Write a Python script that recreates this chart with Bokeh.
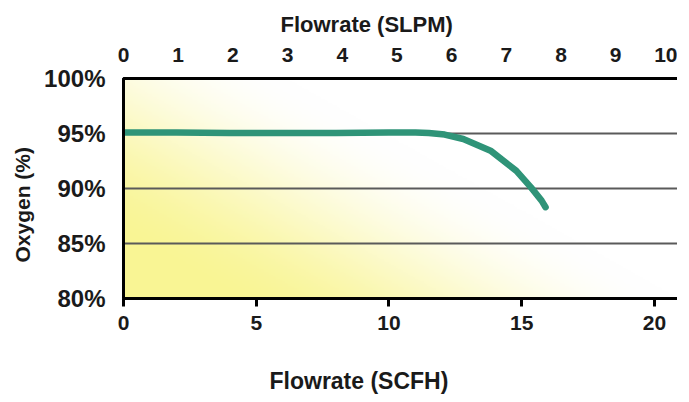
import numpy as np
from bokeh.plotting import figure
from bokeh.models import Range1d, LinearAxis, FixedTicker, PrintfTickFormatter, Title
from bokeh.embed import file_html
from bokeh.resources import INLINE

# ---- data ----
scfh = [0, 2, 4, 6, 8, 10, 11, 11.5, 12.1, 12.8, 13.85, 14.8, 15.35, 15.75, 15.9]
oxygen = [95.1, 95.1, 95.05, 95.05, 95.05, 95.1, 95.1, 95.05, 94.9, 94.5, 93.4, 91.6, 90.1, 88.9, 88.3]
scfh_ticks = [0, 5, 10, 15, 20]
slpm_ticks = [0, 1, 2, 3, 4, 5, 6, 7, 8, 9, 10]
oxygen_ticks = [80, 85, 90, 95, 100]
grid_ticks = [85, 90, 95]

X_MAX = 20.87
SLPM_MAX = 10.13
Y_MIN, Y_MAX = 80, 100

FONT = "Liberation Sans"
TXT = "#1a1a1a"

p = figure(frame_width=554, frame_height=220,
           min_border_left=123, min_border_right=0, min_border_top=78, min_border_bottom=96,
           output_backend="svg", toolbar_location=None,
           x_range=Range1d(0, X_MAX), y_range=Range1d(Y_MIN, Y_MAX),
           background_fill_color="white", border_fill_color="white")

# background gradient (yellow bottom-left -> white top-right)
ny, nx = 160, 320
u = np.linspace(0, 1, nx)[None, :]
v = np.linspace(0, 1, ny)[:, None]
d = 0.85 * u + 0.6 * v
s = np.clip((d - 0.15) / 0.7, 0, 1)
t = 1 - (3 * s ** 2 - 2 * s ** 3)
yellow = (249, 245, 148)
img = np.empty((ny, nx), dtype=np.uint32)
view = img.view(dtype=np.uint8).reshape((ny, nx, 4))
for k in range(3):
    view[..., k] = (255 - (255 - yellow[k]) * t).astype(np.uint8)
view[..., 3] = 255
bg = p.image_rgba(image=[img], x=0, y=Y_MIN, dw=X_MAX, dh=Y_MAX - Y_MIN)
bg.level = "image"

# grid
p.xgrid.visible = False
p.ygrid.ticker = FixedTicker(ticks=grid_ticks)
p.ygrid.grid_line_color = "#5a5a5a"
p.ygrid.grid_line_width = 2

p.outline_line_color = "black"
p.outline_line_width = 3
p.outline_line_alpha = 1

# curve
p.line(scfh, oxygen, line_color="#2f9478", line_width=6.5, line_cap="round", line_join="round")

# bottom axis
xa = p.xaxis[0]
xa.ticker = FixedTicker(ticks=scfh_ticks)
xa.major_tick_out = 8
xa.major_tick_in = 0
xa.major_tick_line_width = 3
xa.major_tick_line_color = "black"
xa.minor_tick_line_color = None
xa.axis_line_color = "black"
xa.axis_line_width = 3
xa.major_label_standoff = 9
xa.major_label_text_font = FONT
xa.major_label_text_font_style = "bold"
xa.major_label_text_font_size = "21px"
xa.major_label_text_color = TXT
# blank spacer label pushes the SCFH title further down
xa.axis_label = " "
xa.axis_label_text_font_size = "12px"
xa.axis_label_standoff = 15

# left axis
ya = p.yaxis[0]
ya.ticker = FixedTicker(ticks=oxygen_ticks)
ya.formatter = PrintfTickFormatter(format="%d%%")
ya.major_tick_out = 0
ya.major_tick_in = 0
ya.minor_tick_line_color = None
ya.axis_line_color = "black"
ya.axis_line_width = 3
ya.major_label_standoff = 18
ya.major_label_text_font = FONT
ya.major_label_text_font_style = "bold"
ya.major_label_text_font_size = "24px"
ya.major_label_text_color = TXT

# top axis (SLPM)
p.extra_x_ranges = {"slpm": Range1d(0, SLPM_MAX)}
top = LinearAxis(x_range_name="slpm", ticker=FixedTicker(ticks=slpm_ticks))
top.major_tick_out = 0
top.major_tick_in = 0
top.minor_tick_line_color = None
top.axis_line_color = "black"
top.axis_line_width = 3
top.major_label_standoff = 17
top.major_label_text_font = FONT
top.major_label_text_font_style = "bold"
top.major_label_text_font_size = "21px"
top.major_label_text_color = TXT
p.add_layout(top, "above")

# axis titles
p.add_layout(Title(text="Flowrate (SLPM)", align="left", offset=157, standoff=12,
                   vertical_align="top",
                   text_font=FONT, text_font_style="bold", text_font_size="22px",
                   text_color=TXT), "above")
p.add_layout(Title(text="Flowrate (SCFH)", align="left", offset=146, standoff=2,
                   text_font=FONT, text_font_style="bold", text_font_size="23px",
                   text_color=TXT), "below")
p.add_layout(Title(text="Oxygen (%)", align="left", offset=36, standoff=16,
                   text_font=FONT, text_font_style="bold", text_font_size="21px",
                   text_color=TXT), "left")

open("out.html", "w").write(file_html(p, INLINE))
